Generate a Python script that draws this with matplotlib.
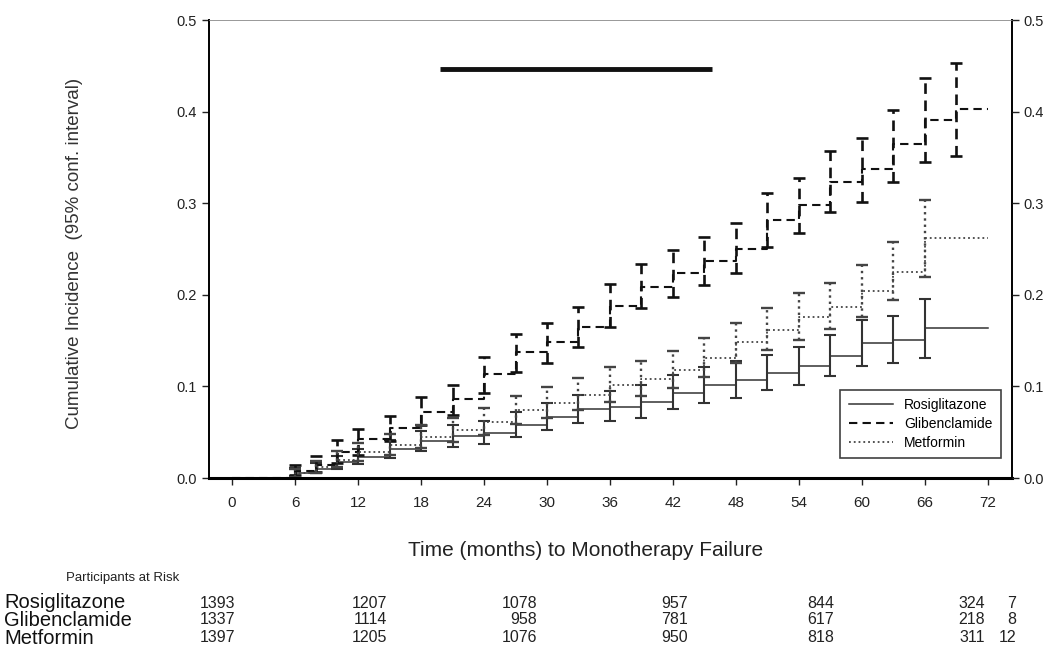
import numpy as np
import matplotlib
matplotlib.use("Agg")
import matplotlib.pyplot as plt

plt.rcParams['font.family'] = ['Liberation Sans', 'DejaVu Sans']

# step times (months) where each curve jumps
months = [6, 8, 10, 12, 15, 18, 21, 24, 27, 30, 33, 36, 39, 42, 45, 48, 51, 54, 57, 60, 63, 66]
glib_months = months + [69]

rosi = [0.006, 0.010, 0.017, 0.023, 0.032, 0.040, 0.046, 0.049, 0.058, 0.067, 0.075,
        0.078, 0.083, 0.093, 0.101, 0.107, 0.115, 0.122, 0.133, 0.147, 0.151, 0.164]
rosi_lo = [0.002, 0.005, 0.010, 0.015, 0.022, 0.029, 0.034, 0.037, 0.045, 0.052, 0.060,
           0.062, 0.066, 0.075, 0.082, 0.087, 0.096, 0.101, 0.111, 0.122, 0.126, 0.131]
rosi_hi = [0.011, 0.016, 0.024, 0.032, 0.042, 0.051, 0.058, 0.062, 0.072, 0.082, 0.091,
           0.095, 0.101, 0.112, 0.121, 0.128, 0.134, 0.143, 0.156, 0.172, 0.177, 0.195]

glib = [0.008, 0.014, 0.028, 0.043, 0.055, 0.072, 0.086, 0.114, 0.138, 0.148, 0.165, 0.188,
        0.209, 0.224, 0.237, 0.250, 0.282, 0.298, 0.323, 0.337, 0.365, 0.391, 0.403]
glib_lo = [0.003, 0.007, 0.016, 0.025, 0.040, 0.058, 0.069, 0.093, 0.116, 0.126, 0.143, 0.165,
           0.186, 0.198, 0.211, 0.224, 0.252, 0.267, 0.290, 0.301, 0.323, 0.345, 0.352]
glib_hi = [0.014, 0.024, 0.041, 0.054, 0.068, 0.088, 0.102, 0.132, 0.157, 0.169, 0.187, 0.212,
           0.234, 0.249, 0.263, 0.278, 0.311, 0.327, 0.357, 0.371, 0.402, 0.437, 0.453]

metf = [0.005, 0.012, 0.020, 0.028, 0.036, 0.045, 0.052, 0.061, 0.074, 0.082, 0.091,
        0.101, 0.108, 0.118, 0.131, 0.148, 0.162, 0.176, 0.187, 0.204, 0.225, 0.262]
metf_lo = [0.001, 0.006, 0.012, 0.019, 0.025, 0.033, 0.039, 0.047, 0.059, 0.066, 0.074,
           0.083, 0.089, 0.098, 0.110, 0.126, 0.140, 0.151, 0.163, 0.176, 0.194, 0.219]
metf_hi = [0.010, 0.019, 0.029, 0.038, 0.048, 0.058, 0.066, 0.076, 0.090, 0.099, 0.109,
           0.121, 0.128, 0.139, 0.153, 0.169, 0.186, 0.202, 0.213, 0.233, 0.258, 0.303]

end_month = 72
bar_x = [19.8, 45.7]   # the black bar near the top
bar_y = 0.447

xticks = list(range(0, 73, 6))
yticks = [0.0, 0.1, 0.2, 0.3, 0.4, 0.5]

risk_names = ["Rosiglitazone", "Glibenclamide", "Metformin"]
risk_counts = [
    [1393, 1207, 1078, 957, 844, 324, 7],
    [1337, 1114, 958, 781, 617, 218, 8],
    [1397, 1205, 1076, 950, 818, 311, 12],
]

fig = plt.figure(figsize=(10.49, 6.57), dpi=100)
ax = fig.add_axes([209/1049, 1 - 478/657, (1012-209)/1049, (478-20)/657])

series = [
    ("Rosiglitazone", months, rosi, rosi_lo, rosi_hi, '-', '#333333', 1.1),
    ("Glibenclamide", glib_months, glib, glib_lo, glib_hi, (0, (4, 2.5)), '#111111', 1.5),
    ("Metformin", months, metf, metf_lo, metf_hi, ':', '#444444', 1.3),
]

for name, t, v, lo, hi, ls, col, lw in series:
    xs = [0] + t + [end_month]
    ys = [0] + v + [v[-1]]
    ax.step(xs, ys, where='post', linestyle=ls, color=col, lw=lw, label=name)
    v_a = np.array(v)
    err = [v_a - np.array(lo), np.array(hi) - v_a]
    eb = ax.errorbar(t, v, yerr=err, fmt='none', ecolor=col, elinewidth=lw + 0.4,
                     capsize=4, capthick=lw + 0.4)
    eb[2][0].set_linestyle(ls)

ax.plot(bar_x, [bar_y, bar_y], color='#111111', lw=3.5, solid_capstyle='butt')

ax.set_xlim(-2.2, 74.3)
ax.set_ylim(0, 0.5)
ax.set_xticks(xticks)
ax.set_yticks(yticks)
ax.set_yticklabels([f"{y:.1f}" for y in yticks])
ax.tick_params(axis='both', direction='out', length=5, width=1, labelsize=10.5, colors='#222222')
ax.tick_params(axis='x', pad=8, labelsize=11)
for side in ['left', 'right']:
    ax.spines[side].set_linewidth(1.4)
ax.spines['bottom'].set_linewidth(2.2)
ax.spines['top'].set_linewidth(0.6)
ax.spines['top'].set_color('#888888')

ax2 = ax.twinx()
ax2.set_ylim(0, 0.5)
ax2.set_yticks(yticks)
ax2.set_yticklabels([f"{y:.1f}" for y in yticks])
ax2.tick_params(axis='y', direction='out', length=5, width=1, labelsize=10.5, colors='#222222')
for sp in ax2.spines.values():
    sp.set_visible(False)

leg = ax.legend(loc='lower right', bbox_to_anchor=(0.995, 0.028), fontsize=10,
                frameon=True, fancybox=False, edgecolor='#111111', handlelength=3.2,
                borderpad=0.6, labelspacing=0.35)
leg.get_frame().set_linewidth(1.2)

fig.text(75/1049, 1 - 253/657, "Cumulative Incidence  (95% conf. interval)", rotation=90,
         ha='center', va='center', fontsize=13.5, color='#333333')
fig.text(586/1049, 1 - 551/657, "Time (months) to Monotherapy Failure", ha='center',
         va='center', fontsize=15, color='#222222')

fig.text(66/1049, 1 - 578/657, "Participants at Risk", ha='left', va='center',
         fontsize=9.5, color='#222222')
row_y = [603, 620, 638]
col_x = [235, 387, 537, 688, 834, 985, 1016]
for name, counts, y in zip(risk_names, risk_counts, row_y):
    fig.text(4/1049, 1 - y/657, name, ha='left', va='center', fontsize=14.5, color='#111111')
    for c, x in zip(counts, col_x):
        fig.text(x/1049, 1 - y/657, str(c), ha='right', va='center', fontsize=11.5,
                 color='#222222')

fig.savefig("out.png", dpi=100)
